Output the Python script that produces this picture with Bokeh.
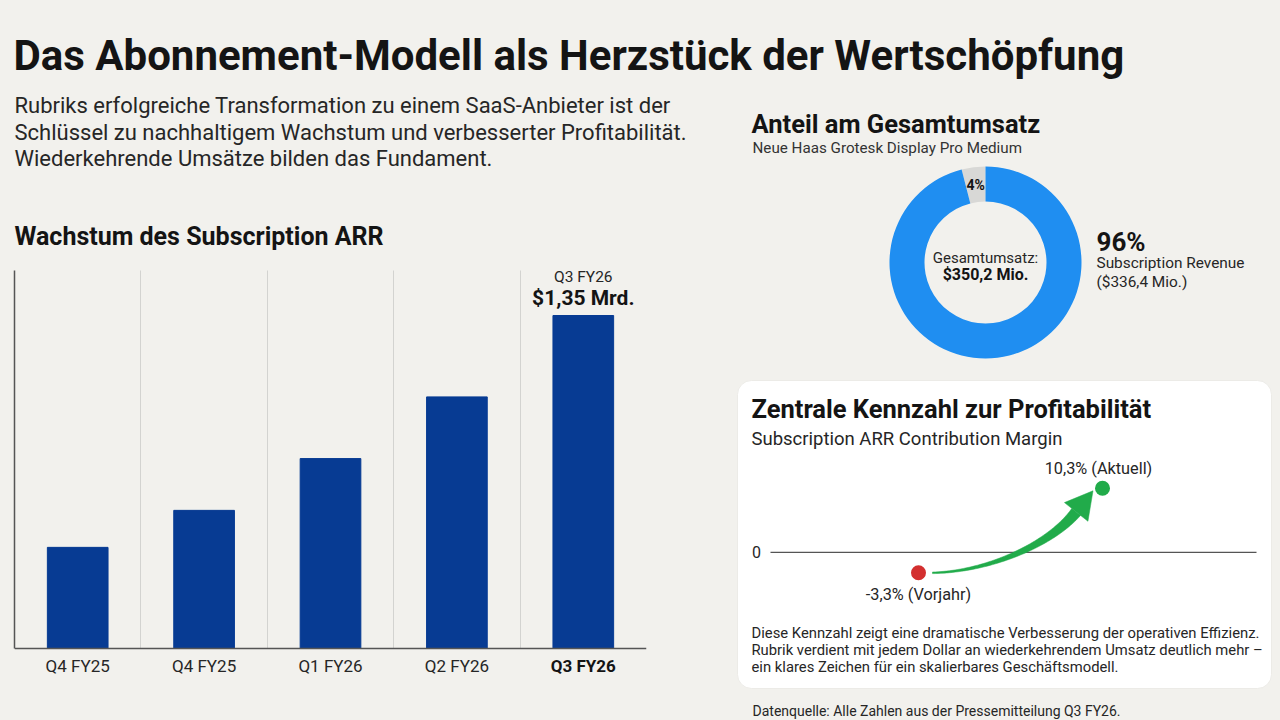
import numpy as np
from bokeh.plotting import figure
from bokeh.models import Range1d, FixedTicker
from bokeh.layouts import column, row
from bokeh.core.properties import value
from bokeh.embed import file_html
from bokeh.resources import INLINE

# ---------------- data ----------------
main_title = "Das Abonnement-Modell als Herzstück der Wertschöpfung"
intro_lines = [
    "Rubriks erfolgreiche Transformation zu einem SaaS-Anbieter ist der",
    "Schlüssel zu nachhaltigem Wachstum und verbesserter Profitabilität.",
    "Wiederkehrende Umsätze bilden das Fundament.",
]

arr_title = "Wachstum des Subscription ARR"
arr_quarters = ["Q4 FY25", "Q4 FY25", "Q1 FY26", "Q2 FY26", "Q3 FY26"]
arr_values = [0.41, 0.56, 0.77, 1.02, 1.35]          # Mrd. USD (as drawn)
arr_top_period = "Q3 FY26"
arr_top_label = "$1,35 Mrd."

share_title = "Anteil am Gesamtumsatz"
share_subtitle = "Neue Haas Grotesk Display Pro Medium"
share_names = ["Sonstiger Umsatz", "Subscription Revenue"]
share_pct = [4, 96]
share_pct_labels = ["4%", "96%"]
total_caption = "Gesamtumsatz:"
total_value = "$350,2 Mio."
subscription_value = "($336,4 Mio.)"

margin_title = "Zentrale Kennzahl zur Profitabilität"
margin_subtitle = "Subscription ARR Contribution Margin"
margin_periods = ["Vorjahr", "Aktuell"]
margin_values = [-3.3, 10.3]
margin_labels = ["-3,3% (Vorjahr)", "10,3% (Aktuell)"]
margin_text = [
    "Diese Kennzahl zeigt eine dramatische Verbesserung der operativen Effizienz.",
    "Rubrik verdient mit jedem Dollar an wiederkehrendem Umsatz deutlich mehr –",
    "ein klares Zeichen für ein skalierbares Geschäftsmodell.",
]
source_note = "Datenquelle: Alle Zahlen aus der Pressemitteilung Q3 FY26."

# ---------------- style ----------------
BG = "#f2f1ed"
INK = "#141414"
TXT = "#262626"
NAVY = "#073b93"
BLUE = "#1f8ef1"
GREY = "#d8d8d6"
GREEN = "#21ab4a"
RED = "#d32f2f"
FONT = "Roboto"
W, H = 1280, 720


def canvas(w, h, xr, yr):
    p = figure(width=w, height=h, x_range=Range1d(*xr), y_range=Range1d(*yr),
               x_axis_location=None, y_axis_location=None,
               output_backend="svg", toolbar_location=None, frame_align=False,
               min_border=0, background_fill_color=BG, border_fill_color=BG,
               outline_line_color=None)
    p.grid.visible = False
    return p


def txt(p, x, y, s, size, bold=False, color=TXT, align="left", baseline="middle",
        **kw):
    p.text(x=[x], y=[y], text=[s], text_font=value(FONT),
           text_font_size=f"{size}px",
           text_font_style="bold" if bold else "normal",
           text_color=color, text_align=align, text_baseline=baseline, **kw)


# ---------------- header ----------------
head = canvas(1280, 85, (0, 1280), (H - 85, H))
txt(head, 13, H - 55, main_title, 42, bold=True, color=INK, baseline="middle")

# ---------------- left intro text ----------------
intro = canvas(700, 170, (0, 700), (H - 255, H - 85))
for i, line in enumerate(intro_lines):
    txt(intro, 14, H - (105 + 26.5 * i), line, 22, color=TXT)
txt(intro, 14, H - 236, arr_title, 25, bold=True, color=INK)

# ---------------- bar chart ----------------
n = len(arr_quarters)
xpos = [i + 0.5 for i in range(n)]
px_per_unit = 333 / arr_values[-1]          # vertical scale as drawn
y_low = -(720 - 648) / px_per_unit
y_high = (648 - 255) / px_per_unit
y_axis_top = (648 - 270) / px_per_unit

bars = figure(width=700, height=465, x_range=Range1d(0, n), y_range=Range1d(y_low, y_high),
              output_backend="svg", toolbar_location=None, frame_align=False,
              min_border_left=14, min_border_right=54, min_border_top=0,
              min_border_bottom=0,
              background_fill_color=BG, border_fill_color=BG, outline_line_color=None)
bars.vbar(x=xpos, top=arr_values, width=0.48, fill_color=NAVY, line_color=NAVY)

xa = bars.xaxis[0]
xa.fixed_location = 0
xa.ticker = FixedTicker(ticks=[])
xa.major_tick_line_color = None
xa.minor_tick_line_color = None
xa.major_tick_out = 0
xa.major_label_standoff = 0
xa.axis_line_color = "#555555"
xa.axis_line_width = 1.5

ya = bars.yaxis[0]
ya.ticker = FixedTicker(ticks=[])
ya.bounds = (0, y_axis_top)
ya.major_tick_out = 0
ya.major_label_standoff = 0
ya.major_tick_line_color = None
ya.minor_tick_line_color = None
ya.axis_line_color = "#555555"
ya.axis_line_width = 1.5

bars.ygrid.visible = False
bars.xgrid.ticker = FixedTicker(ticks=list(range(1, n)))
bars.xgrid.cross_bounds = (0, y_axis_top)
bars.xgrid.grid_line_color = "#d3d3d0"
bars.xgrid.grid_line_width = 1

bars.text(x=xpos, y=[0] * n, text=arr_quarters, y_offset=17,
          text_font=value(FONT), text_font_size="17px",
          text_font_style=["normal"] * (n - 1) + ["bold"],
          text_color=[TXT] * (n - 1) + [INK], text_align="center", text_baseline="middle")
bars.text(x=[xpos[-1]], y=[arr_values[-1]], text=[arr_top_period], y_offset=-39,
          text_font=value(FONT), text_font_size="15.5px", text_color=TXT,
          text_align="center", text_baseline="middle")
bars.text(x=[xpos[-1]], y=[arr_values[-1]], text=[arr_top_label], y_offset=-18,
          text_font=value(FONT), text_font_size="21px", text_font_style="bold",
          text_color=INK, text_align="center", text_baseline="middle")

# ---------------- right panel ----------------
R_X0 = 700
right = canvas(580, 635, (R_X0, W), (0, H - 85))

# donut
txt(right, 751, H - 123, share_title, 25.5, bold=True, color=INK)
txt(right, 752, H - 147, share_subtitle, 15.2, color="#333333")
cx, cy, r_out, r_in = 985, H - 262, 96, 61
fr = np.array(share_pct, dtype=float) / sum(share_pct)
ends = np.pi / 2 + 2 * np.pi * np.cumsum(fr)
starts = np.concatenate([[np.pi / 2], ends[:-1]])
right.annular_wedge(x=cx, y=cy, inner_radius=r_in, outer_radius=r_out,
                    start_angle=list(starts), end_angle=list(ends),
                    fill_color=[GREY, BLUE], line_color=None)
mid = (starts[0] + ends[0]) / 2
rm = (r_in + r_out) / 2
txt(right, cx + rm * np.cos(mid), cy + rm * np.sin(mid), share_pct_labels[0], 14,
    bold=True, color=INK, align="center")
txt(right, cx, H - 257, total_caption, 15, color=TXT, align="center")
txt(right, cx, H - 274, total_value, 16, bold=True, color=INK, align="center")
txt(right, 1096, H - 241, share_pct_labels[1], 26, bold=True, color=INK)
txt(right, 1096, H - 262, share_names[1], 15.4, color=TXT)
txt(right, 1096, H - 281, subscription_value, 15.4, color=TXT)

# card
right.quad(left=737, right=1271, top=H - 380, bottom=H - 688, fill_color="white",
           line_color="#ecebe7", border_radius=14)
txt(right, 751, H - 408, margin_title, 25.5, bold=True, color=INK)
txt(right, 751, H - 438, margin_subtitle, 18.5, color=TXT)

# margin scales (period index -> px, percent -> px)
PX_X0, PX_PER_PERIOD = 918, 184
PX_ZERO, PX_PER_PCT = H - 551.8, 6.215
right.extra_x_ranges = {"m": Range1d((R_X0 - PX_X0) / PX_PER_PERIOD, (W - PX_X0) / PX_PER_PERIOD)}
right.extra_y_ranges = {"m": Range1d((0 - PX_ZERO) / PX_PER_PCT, (H - 85 - PX_ZERO) / PX_PER_PCT)}

idx = list(range(len(margin_values)))
right.segment(x0=[770], x1=[1256], y0=[0], y1=[0], y_range_name="m",
              line_color="#555555", line_width=1.3)
right.text(x=[756], y=[0], text=["0"], y_range_name="m", text_font=value(FONT),
           text_font_size="16px", text_color=TXT, text_align="center",
           text_baseline="middle")


def to_px(i, v):
    return np.array([PX_X0 + i * PX_PER_PERIOD, PX_ZERO + v * PX_PER_PCT])


# arrow from previous year to current value
p_prev = to_px(idx[0], margin_values[0])
p_now = to_px(idx[1], margin_values[1])
tail = p_prev + np.array([14.0, 0.0])
tip = p_now + np.array([-9.5, -2.5])
d = np.array([0.62, 0.78]); d /= np.linalg.norm(d)
base = tip - 27 * d
c1 = tail + np.array([55.0, 1.0])
c2 = base - 42 * d
t = np.linspace(0, 1, 60)[:, None]
B = (1 - t) ** 3 * tail + 3 * (1 - t) ** 2 * t * c1 + 3 * (1 - t) * t ** 2 * c2 + t ** 3 * base
D = 3 * (1 - t) ** 2 * (c1 - tail) + 6 * (1 - t) * t * (c2 - c1) + 3 * t ** 2 * (base - c2)
D /= np.linalg.norm(D, axis=1)[:, None]
N = np.stack([-D[:, 1], D[:, 0]], axis=1)
wdt = (0.8 + 4.8 * t ** 1.4)
L = B + N * wdt
Rt = B - N * wdt
right.patch(x=list(L[:, 0]) + list(Rt[::-1, 0]), y=list(L[:, 1]) + list(Rt[::-1, 1]),
            fill_color=GREEN, line_color=GREEN, line_width=0.5)
nb = N[-1]
right.patch(x=[tip[0], base[0] + 15 * nb[0], base[0] - 15 * nb[0]],
            y=[tip[1], base[1] + 15 * nb[1], base[1] - 15 * nb[1]],
            fill_color=GREEN, line_color=GREEN, line_width=0.5)

right.scatter(x=idx, y=margin_values, x_range_name="m", y_range_name="m", size=15,
              fill_color=[RED, GREEN], line_color=None)
right.text(x=idx, y=margin_values, text=margin_labels, x_range_name="m", y_range_name="m",
           x_offset=[0, -4], y_offset=[22, -20], text_font=value(FONT),
           text_font_size="16.3px", text_color=TXT, text_align="center",
           text_baseline="middle")

for i, line in enumerate(margin_text):
    txt(right, 751, H - (632 + 17 * i), line, 14.8, color=TXT)
txt(right, 752, H - 710, source_note, 14, color=TXT)

layout = column(head, row(column(intro, bars), right),
                styles={"background-color": BG})

open("out.html", "w").write(file_html(layout, INLINE))
